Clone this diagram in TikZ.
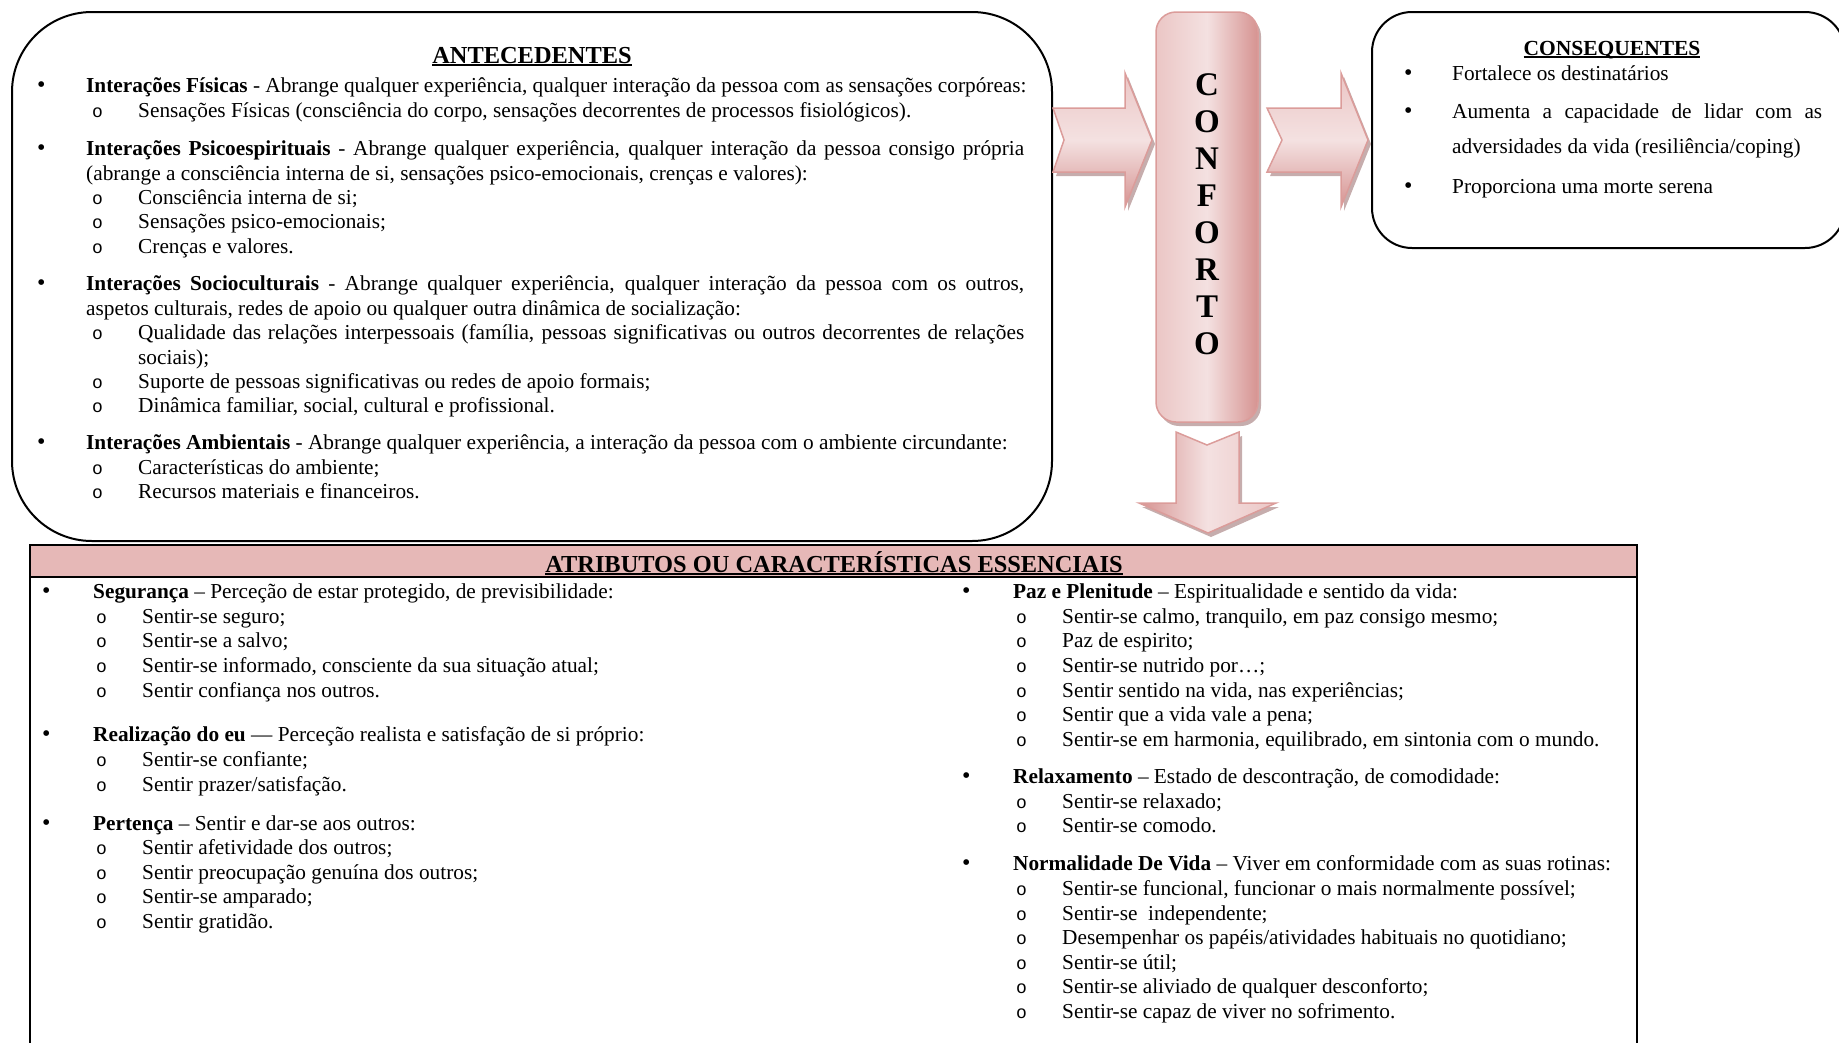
\documentclass[tikz,border=0pt]{standalone}
\usepackage{fontspec}
\setmainfont{Liberation Serif}
\newfontfamily\monofam{Liberation Mono}
\usetikzlibrary{shadows}
\definecolor{pinkhead}{HTML}{E6B8B7}
\definecolor{pinkline}{HTML}{DB9C9A}
\definecolor{pinklight}{HTML}{F4E1E1}
\definecolor{pinkmid}{HTML}{EBC6C5}
\definecolor{pinkdark}{HTML}{D69391}
\definecolor{shadowc}{HTML}{B39291}
\newcommand\bodyfs{\fontsize{21.3pt}{24pt}\selectfont}
\newcommand\ulbox[1]{\setbox0\hbox{#1}\rlap{\rule[-3pt]{\wd0}{1.6pt}}\box0}
\begin{document}
\begin{tikzpicture}[x=1pt,y=-1pt,
  txt/.style={anchor=base west,inner sep=0pt,font=\bodyfs},
  sym/.style={anchor=base west,inner sep=0pt,font=\fontsize{24pt}{24pt}\selectfont},
  osym/.style={anchor=base west,inner sep=0pt,font=\monofam\fontsize{18pt}{20pt}\selectfont},
  ttl/.style={anchor=base,inner sep=0pt,font=\bfseries\fontsize{24.4pt}{26pt}\selectfont},
  conf/.style={anchor=base,inner sep=0pt,font=\bfseries\fontsize{33pt}{35pt}\selectfont},
  pinkshape/.style={draw=pinkline,line width=1.5pt,line join=miter,
     drop shadow={shadow xshift=3pt,shadow yshift=-4pt,fill=shadowc,opacity=0.75}},
  box/.style={draw=black,line width=2pt}]
\useasboundingbox (0,0) rectangle (1839,1042);

% ---------------- ANTECEDENTES ----------------
\draw[box,rounded corners=80pt] (12,12) rectangle (1052,541);
\node[ttl] (antT) at (532,63) {\ulbox{ANTECEDENTES}};

\node[sym] (ab1) at (37,92) {\textbullet};
\node[txt] (a1) at (86,92) {\textbf{Interações Físicas} - Abrange qualquer experiência, qualquer interação da pessoa com as sensações corpóreas:};
\node[osym] (ao1) at (92,117) {o};
\node[txt] (a2) at (138,117) {Sensações Físicas (consciência do corpo, sensações decorrentes de processos fisiológicos).};

\node[sym] (ab2) at (37,155) {\textbullet};
\node[txt] (a3) at (86,155) {\makebox[938pt][s]{\textbf{Interações Psicoespirituais} - Abrange qualquer experiência, qualquer interação da pessoa consigo própria}};
\node[txt] (a4) at (86,180) {(abrange a consciência interna de si, sensações psico-emocionais, crenças e valores):};
\node[osym] (ao2) at (92,204) {o};
\node[txt] (a5) at (138,204) {Consciência interna de si;};
\node[osym] (ao3) at (92,228) {o};
\node[txt] (a6) at (138,228) {Sensações psico-emocionais;};
\node[osym] (ao4) at (92,253) {o};
\node[txt] (a7) at (138,253) {Crenças e valores.};

\node[sym] (ab3) at (37,290) {\textbullet};
\node[txt] (a8) at (86,290) {\makebox[938pt][s]{\textbf{Interações Socioculturais} - Abrange qualquer experiência, qualquer interação da pessoa com os outros,}};
\node[txt] (a9) at (86,315) {aspetos culturais, redes de apoio ou qualquer outra dinâmica de socialização:};
\node[osym] (ao5) at (92,339) {o};
\node[txt] (a10) at (138,339) {\makebox[886pt][s]{Qualidade das relações interpessoais (família, pessoas significativas ou outros decorrentes de relações}};
\node[txt] (a11) at (138,364) {sociais);};
\node[osym] (ao6) at (92,388) {o};
\node[txt] (a12) at (138,388) {Suporte de pessoas significativas ou redes de apoio formais;};
\node[osym] (ao7) at (92,412) {o};
\node[txt] (a13) at (138,412) {Dinâmica familiar, social, cultural e profissional.};

\node[sym] (ab4) at (37,449) {\textbullet};
\node[txt] (a14) at (86,449) {\textbf{Interações Ambientais} - Abrange qualquer experiência, a interação da pessoa com o ambiente circundante:};
\node[osym] (ao8) at (92,474) {o};
\node[txt] (a15) at (138,474) {Características do ambiente;};
\node[osym] (ao9) at (92,498) {o};
\node[txt] (a16) at (138,498) {Recursos materiais e financeiros.};

% ---------------- ARROWS AND BAR ----------------
\path[pinkshape,top color=pinkmid,bottom color=pinkdark,middle color=pinklight]
  (1053,108) -- (1125,108) -- (1125,73) -- (1152,140) -- (1125,207) -- (1125,172)
  -- (1053,172) -- (1064,140) -- cycle;
\path[pinkshape,top color=pinkmid,bottom color=pinkdark,middle color=pinklight]
  (1267,108) -- (1341,108) -- (1341,73) -- (1368,140) -- (1341,207) -- (1341,172)
  -- (1267,172) -- (1282,140) -- cycle;
\path[pinkshape,left color=pinkdark,right color=pinkmid,middle color=pinklight]
  (1176,432) -- (1207,445) -- (1239,432) -- (1239,503) -- (1276,503) -- (1208,533)
  -- (1139,503) -- (1176,503) -- cycle;
\path[pinkshape,rounded corners=20pt,left color=pinkmid,right color=pinkdark,middle color=pinklight]
  (1156,12) rectangle (1258,422);
\foreach \i/\L/\y in {1/C/95,2/O/132,3/N/169,4/F/206,5/O/243,6/R/280,7/T/317,8/O/354}
  {\node[conf] (conf\i) at (1207,\y) {\L};}

% ---------------- CONSEQUENTES ----------------
\draw[box,rounded corners=40pt] (1372,12) rectangle (1845,248);
\node[ttl,font=\bfseries\fontsize{21.5pt}{24pt}\selectfont] (conT) at (1612,55) {\ulbox{CONSEQUENTES}};
\node[sym] (cb1) at (1404,80) {\textbullet};
\node[txt] (c1) at (1452,80) {Fortalece os destinatários};
\node[sym] (cb2) at (1404,118) {\textbullet};
\node[txt] (c2) at (1452,118) {\makebox[370pt][s]{Aumenta a capacidade de lidar com as}};
\node[txt] (c3) at (1452,153) {adversidades da vida (resiliência/coping)};
\node[sym] (cb3) at (1404,193) {\textbullet};
\node[txt] (c4) at (1452,193) {Proporciona uma morte serena};

% ---------------- ATRIBUTOS ----------------
\fill[pinkhead] (30,545) rectangle (1637,577);
\draw[line width=2.5pt] (30,1060) -- (30,545) -- (1637,545) -- (1637,1060);
\draw[line width=2pt] (30,577) -- (1637,577);
\node[ttl] (atT) at (834,572) {\ulbox{ATRIBUTOS OU CARACTERÍSTICAS ESSENCIAIS}};

% left column
\node[sym] (lb1) at (42,598) {\textbullet};
\node[txt] (l1) at (93,598) {\textbf{Segurança} – Perceção de estar protegido, de previsibilidade:};
\foreach \n/\y/\t in {2/623/{Sentir-se seguro;},3/647/{Sentir-se a salvo;},4/672/{Sentir-se informado, consciente da sua situação atual;},5/697/{Sentir confiança nos outros.}}
  {\node[osym] (lo\n) at (96,\y) {o}; \node[txt] (l\n) at (142,\y) {\t};}
\node[sym] (lb2) at (42,741) {\textbullet};
\node[txt] (l6) at (93,741) {\textbf{Realização do eu} — Perceção realista e satisfação de si próprio:};
\foreach \n/\y/\t in {7/766/{Sentir-se confiante;},8/791/{Sentir prazer/satisfação.}}
  {\node[osym] (lo\n) at (96,\y) {o}; \node[txt] (l\n) at (142,\y) {\t};}
\node[sym] (lb3) at (42,830) {\textbullet};
\node[txt] (l9) at (93,830) {\textbf{Pertença} – Sentir e dar-se aos outros:};
\foreach \n/\y/\t in {10/854/{Sentir afetividade dos outros;},11/879/{Sentir preocupação genuína dos outros;},12/903/{Sentir-se amparado;},13/928/{Sentir gratidão.}}
  {\node[osym] (lo\n) at (96,\y) {o}; \node[txt] (l\n) at (142,\y) {\t};}

% right column
\node[sym] (rb1) at (962,598) {\textbullet};
\node[txt] (r1) at (1013,598) {\textbf{Paz e Plenitude} – Espiritualidade e sentido da vida:};
\foreach \n/\y/\t in {2/623/{Sentir-se calmo, tranquilo, em paz consigo mesmo;},3/647/{Paz de espirito;},4/672/{Sentir-se nutrido por…;},5/697/{Sentir sentido na vida, nas experiências;},6/721/{Sentir que a vida vale a pena;},7/746/{Sentir-se em harmonia, equilibrado, em sintonia com o mundo.}}
  {\node[osym] (ro\n) at (1016,\y) {o}; \node[txt] (r\n) at (1062,\y) {\t};}
\node[sym] (rb2) at (962,783) {\textbullet};
\node[txt] (r8) at (1013,783) {\textbf{Relaxamento} – Estado de descontração, de comodidade:};
\foreach \n/\y/\t in {9/808/{Sentir-se relaxado;},10/832/{Sentir-se comodo.}}
  {\node[osym] (ro\n) at (1016,\y) {o}; \node[txt] (r\n) at (1062,\y) {\t};}
\node[sym] (rb3) at (962,870) {\textbullet};
\node[txt] (r11) at (1013,870) {\textbf{Normalidade De Vida} – Viver em conformidade com as suas rotinas:};
\foreach \n/\y/\t in {12/895/{Sentir-se funcional, funcionar o mais normalmente possível;},13/920/{Sentir-se\ \ independente;},14/944/{Desempenhar os papéis/atividades habituais no quotidiano;},15/969/{Sentir-se útil;},16/993/{Sentir-se aliviado de qualquer desconforto;},17/1018/{Sentir-se capaz de viver no sofrimento.}}
  {\node[osym] (ro\n) at (1016,\y) {o}; \node[txt] (r\n) at (1062,\y) {\t};}
\end{tikzpicture}
\end{document}
